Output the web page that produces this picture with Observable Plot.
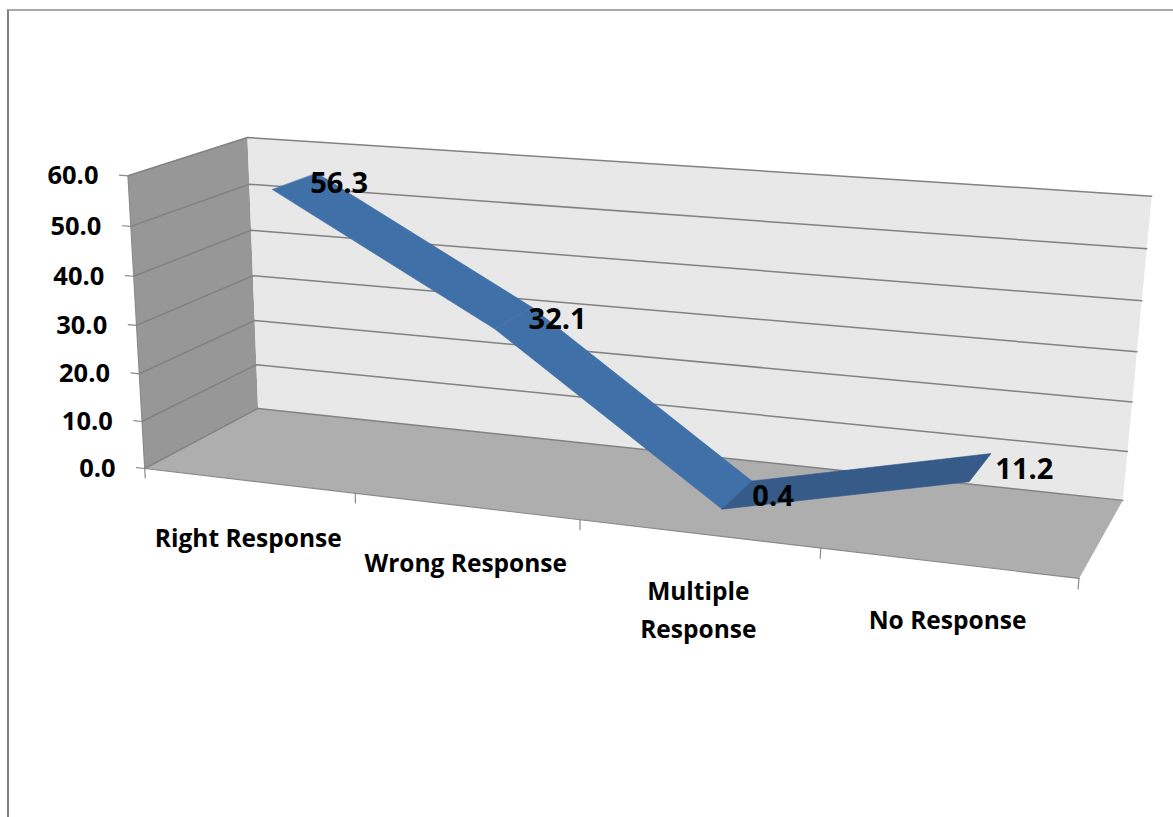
<!DOCTYPE html>
<html>
<head>
<meta charset="utf-8">
<script src="https://cdn.jsdelivr.net/npm/d3@7"></script>
<script src="https://cdn.jsdelivr.net/npm/@observablehq/plot@0.6"></script>
<style>
  html, body { margin: 0; padding: 0; background: #fff; }
  #chart { position: relative; width: 1173px; height: 817px; overflow: hidden; }
  #chart svg { position: absolute; left: 0; top: 0; }
  #chart .border {
    position: absolute; left: 7px; top: 9px; right: -10px; bottom: -10px;
    border-left: 2px solid #808080; border-top: 2px solid #a8a8a8;
    pointer-events: none;
  }
</style>
</head>
<body>
<div id="chart"><div class="border"></div></div>
<script>
// Share of answers by response type (percent)
const categories = ["Right Response", "Wrong Response", "Multiple Response", "No Response"];
const categoryLabels = ["Right Response", "Wrong Response", "Multiple\nResponse", "No Response"];
const values = [56.3, 32.1, 0.4, 11.2];
const valueTicks = [0, 10, 20, 30, 40, 50, 60];
const valueDomain = [0, 60];

// 3-D view: box proportions, rotation and camera
const box = {width: 3.19, height: 1, depth: 0.856};
const view = {yaw: 21.5, pitch: 21.7};
const eye = [0.37, 1.196, 8.155];          // box centre in camera space
const lens = {focal: 2473, cx: 513.4, cy: 700.5};
const W = 1173, H = 817;

const rad = Math.PI / 180;
const cf = Math.cos(view.yaw * rad), sf = Math.sin(view.yaw * rad);
const ct = Math.cos(view.pitch * rad), st = Math.sin(view.pitch * rad);
const ax = [cf, -sf * st, -sf * ct];   // world X in camera space
const ay = [0, ct, -st];               // world Y
const az = [sf, cf * st, cf * ct];     // world Z (depth)

const n = categories.length;
// u: position along the category axis (0..n), v: value, w: depth (0 front, 1 back)
function project(u, v, w) {
  const X = (u / n - 0.5) * box.width;
  const Y = ((v - valueDomain[0]) / (valueDomain[1] - valueDomain[0]) - 0.5) * box.height;
  const Z = (w - 0.5) * box.depth;
  const c = [0, 1, 2].map(i => X * ax[i] + Y * ay[i] + Z * az[i] + eye[i]);
  return {x: c[0] / c[2], y: c[1] / c[2]};
}

const [v0, v1] = valueDomain;
function face(corners, fill, extra = {}) {
  return Plot.line(corners.map(p => project(...p)),
    {x: "x", y: "y", fill, stroke: "none", curve: "linear-closed", ...extra});
}

const wallFloor = [[0, v0, 0], [n, v0, 0], [n, v0, 1], [0, v0, 1]];
const wallBack = [[0, v0, 1], [n, v0, 1], [n, v1, 1], [0, v1, 1]];
const wallSide = [[0, v0, 0], [0, v0, 1], [0, v1, 1], [0, v1, 0]];

// gridlines run across the side wall and the back wall
const grid = valueTicks.flatMap(t =>
  [[0, t, 0], [0, t, 1], [n, t, 1]].map(p => ({...project(...p), t})));

const valueTickMarks = valueTicks.flatMap(t =>
  [[0, t, 0], [-0.04, t, 0]].map(p => ({...project(...p), t})));
const categoryTickMarks = d3.range(n + 1).flatMap(k =>
  [[k, v0, 0], [k, v0 - 2, 0]].map(p => ({...project(...p), k})));

// ribbon of the series: one quad per segment, depth band 0.3..0.7
const w0 = 0.3, w1 = 0.7;
const segments = d3.range(n - 1).map(i => ({
  corners: [[i + 0.5, values[i], w0], [i + 1.5, values[i + 1], w0],
            [i + 1.5, values[i + 1], w1], [i + 0.5, values[i], w1]],
  fill: values[i + 1] < values[i] ? "#4070a8" : "#365b89"
}));

const font = "'Open Sans', 'DejaVu Sans', sans-serif";
const fmt = d3.format(".1f");

const chart = Plot.plot({
  width: W,
  height: H,
  margin: 0,
  x: {domain: [-lens.cx / lens.focal, (W - lens.cx) / lens.focal], axis: null},
  y: {domain: [(lens.cy - H) / lens.focal, lens.cy / lens.focal], axis: null},
  style: {background: "transparent", fontFamily: font},
  marks: [
    face(wallFloor, "#aeaeae"),
    face(wallSide, "#979797"),
    face(wallBack, "#e8e8e8"),
    Plot.line(grid, {x: "x", y: "y", z: "t", stroke: "#828282", strokeWidth: 1.5}),
    Plot.line([[0, v0, 0], [n, v0, 0]].map(p => project(...p)),
      {x: "x", y: "y", stroke: "#8a8a8a", strokeWidth: 1.2}),
    Plot.line([[0, v0, 0], [0, v1, 0]].map(p => project(...p)),
      {x: "x", y: "y", stroke: "#8a8a8a", strokeWidth: 1.2}),
    Plot.line(valueTickMarks, {x: "x", y: "y", z: "t", stroke: "#8a8a8a", strokeWidth: 1.2}),
    Plot.line(categoryTickMarks, {x: "x", y: "y", z: "k", stroke: "#8a8a8a", strokeWidth: 1.2}),
    ...segments.map(s => face(s.corners, s.fill, {stroke: s.fill, strokeWidth: 0.6})),
    Plot.text(valueTicks, {
      x: t => project(-0.04, t, 0).x, y: t => project(-0.04, t, 0).y,
      text: t => fmt(t), textAnchor: "end", dx: -21, dy: 1,
      fontSize: 25.5, fontWeight: "bold", fontFamily: font, fill: "#000"
    }),
    Plot.text(categoryLabels, {
      x: (d, i) => project(i + 0.5, v0, 0).x, y: (d, i) => project(i + 0.5, v0, 0).y,
      text: d => d, lineAnchor: "top", dy: 39, lineHeight: 1.55,
      fontSize: 24.5, fontWeight: "bold", fontFamily: font, fill: "#000"
    }),
    Plot.text(values, {
      x: (d, i) => project(i + 0.5, d, 0.5).x, y: (d, i) => project(i + 0.5, d, 0.5).y,
      text: d => fmt(d), textAnchor: "start", dx: 15, dy: 2,
      fontSize: 29, fontWeight: "bold", fontFamily: font, fill: "#000"
    })
  ]
});

document.getElementById("chart").prepend(chart);
</script>
</body>
</html>
